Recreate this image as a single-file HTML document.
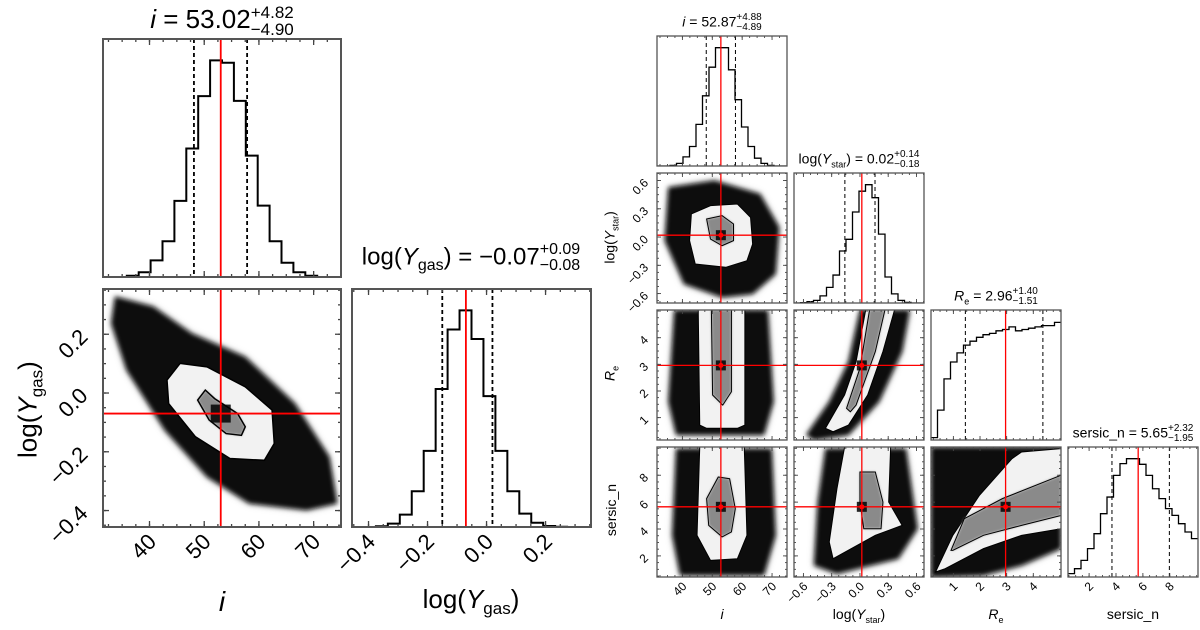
<!DOCTYPE html>
<html><head><meta charset="utf-8">
<style>
html,body{margin:0;padding:0;background:#fff;}
#wrap{position:relative;width:1200px;height:630px;overflow:hidden;font-family:"Liberation Sans",Arial,sans-serif;}
svg{position:absolute;left:0;top:0;}
.t{position:absolute;white-space:nowrap;color:#000;transform:translateX(-50%);}
.st{display:inline-block;vertical-align:middle;line-height:1;text-align:left;}
.st span{display:block;}
</style></head>
<body>
<div id="wrap">
<svg id="svg" width="1200" height="630">
<defs>
<filter id="b1" x="-20%" y="-20%" width="140%" height="140%"><feGaussianBlur stdDeviation="2.5"/></filter>
<filter id="b2" x="-20%" y="-20%" width="140%" height="140%"><feGaussianBlur stdDeviation="4"/></filter>
<filter id="b3" x="-20%" y="-20%" width="140%" height="140%"><feGaussianBlur stdDeviation="1.2"/></filter>
</defs>
</svg>

<div class="t" style="left:222px;top:4px;font-size:26px;"><i>i</i> = 53.02<span class="st" style="font-size:17px;"><span>+4.82</span><span>−4.90</span></span></div>
<div class="t" style="left:471px;top:242px;font-size:24px;">log(<i>Y</i><sub style="font-size:16px;">gas</sub>) = −0.07<span class="st" style="font-size:16px;"><span>+0.09</span><span>−0.08</span></span></div>
<div class="t" style="left:222px;top:586px;font-size:28px;"><i>i</i></div>
<div class="t" style="left:471px;top:584px;font-size:26px;">log(<i>Y</i><sub style="font-size:17px;">gas</sub>)</div>
<div class="t" style="left:30px;top:392px;font-size:26px;transform:translate(-50%,0) rotate(-90deg);">log(<i>Y</i><sub style="font-size:17px;">gas</sub>)</div>

<div class="t" style="left:722px;top:13px;font-size:14px;"><i>i</i> = 52.87<span class="st" style="font-size:10px;"><span>+4.88</span><span>−4.89</span></span></div>
<div class="t" style="left:859px;top:150px;font-size:14px;">log(<i>Y</i><sub style="font-size:9px;">star</sub>) = 0.02<span class="st" style="font-size:10px;"><span>+0.14</span><span>−0.18</span></span></div>
<div class="t" style="left:996px;top:287px;font-size:14px;"><i>R</i><sub style="font-size:9px;">e</sub> = 2.96<span class="st" style="font-size:10px;"><span>+1.40</span><span>−1.51</span></span></div>
<div class="t" style="left:1133px;top:424px;font-size:14px;">sersic_n = 5.65<span class="st" style="font-size:10px;"><span>+2.32</span><span>−1.95</span></span></div>
<div class="t" style="left:722px;top:606px;font-size:14px;"><i>i</i></div>
<div class="t" style="left:859px;top:606px;font-size:14px;">log(<i>Y</i><sub style="font-size:9px;">star</sub>)</div>
<div class="t" style="left:996px;top:606px;font-size:14px;"><i>R</i><sub style="font-size:9px;">e</sub></div>
<div class="t" style="left:1133px;top:606px;font-size:14px;">sersic_n</div>
<div class="t" style="left:611px;top:228px;font-size:14px;transform:translate(-50%,0) rotate(-90deg);">log(<i>Y</i><sub style="font-size:9px;">star</sub>)</div>
<div class="t" style="left:611px;top:364px;font-size:14px;transform:translate(-50%,0) rotate(-90deg);"><i>R</i><sub style="font-size:9px;">e</sub></div>
<div class="t" style="left:611px;top:502px;font-size:14px;transform:translate(-50%,0) rotate(-90deg);">sersic_n</div>
</div>

<script>
const rangeI = [31.5, 75];
const rangeYgas = [-0.456, 0.354];
const rangeYstar = [-0.70, 0.68];
const rangeRe = [0.16, 5.04];
const rangeN = [0.43, 10.1];

const ticksI = [40, 50, 60, 70];
const ticksYgas = [-0.4, -0.2, 0.0, 0.2];
const ticksYstar = [-0.6, -0.3, 0.0, 0.3, 0.6];
const ticksRe = [1, 2, 3, 4];
const ticksN = [2, 4, 6, 8];
const labelsYgas = ["−0.4", "−0.2", "0.0", "0.2"];
const labelsYstar = ["−0.6", "−0.3", "0.0", "0.3", "0.6"];

const histILeft = [0,0,0.005,0.02,0.07,0.15,0.32,0.54,0.76,0.91,0.90,0.74,0.51,0.30,0.15,0.06,0.02,0.005,0,0];
const histYgas = [0,0,0.003,0.014,0.052,0.15,0.32,0.58,0.83,0.91,0.79,0.55,0.32,0.15,0.056,0.018,0.004,0.001,0,0];
const histIRight = [0,0,0.005,0.02,0.07,0.15,0.32,0.54,0.76,0.91,0.91,0.74,0.51,0.30,0.15,0.06,0.02,0.005,0,0];
const histYstar = [0,0.003,0.01,0.02,0.055,0.12,0.215,0.40,0.49,0.70,0.86,0.91,0.81,0.53,0.20,0.07,0.02,0.005,0,0];
const histRe = [0.018,0.23,0.47,0.60,0.67,0.73,0.76,0.79,0.81,0.82,0.84,0.85,0.87,0.84,0.85,0.86,0.87,0.88,0.88,0.905];
const histN = [0.026,0.064,0.128,0.218,0.333,0.487,0.615,0.782,0.872,0.91,0.91,0.867,0.782,0.679,0.603,0.526,0.474,0.41,0.346,0.295];

const medI1 = 53.02, loI1 = 48.12, hiI1 = 57.84;
const medYgas = -0.07, loYgas = -0.15, hiYgas = 0.02;
const medI2 = 52.87, loI2 = 47.98, hiI2 = 57.75;
const medYstar = 0.02, loYstar = -0.16, hiYstar = 0.16;
const medRe = 2.96, loRe = 1.45, hiRe = 4.36;
const medN = 5.65, loN = 3.70, hiN = 7.97;

const darkIYgasX = [33.7,40.7,47.7,57.5,66.6,72.9,74.3,68.7,58.2,50.5,42.8,35.8,33.0];
const darkIYgasY = [0.328,0.294,0.203,0.123,-0.036,-0.218,-0.376,-0.399,-0.376,-0.286,-0.127,0.078,0.237];
const outIYgasX = [43.2,45.6,50.5,57.5,62.4,62.8,61.0,54.7,48.4,43.5];
const outIYgasY = [0.044,0.101,0.089,0.021,-0.058,-0.172,-0.229,-0.223,-0.149,-0.036];
const inIYgasX = [48.8,50.2,51.9,56.1,57.5,56.8,54.0,50.9];
const inIYgasY = [-0.024,0.010,-0.019,-0.070,-0.115,-0.144,-0.138,-0.092];

const darkIYstarX = [35.3,50.7,66.0,72.4,71.2,63.5,53.3,40.5,34.1];
const darkIYstarY = [0.528,0.599,0.457,0.103,-0.392,-0.605,-0.640,-0.498,-0.038];
const outIYstarX = [43.0,49.4,58.4,62.8,63.5,61.6,54.5,44.3,42.4];
const outIYstarY = [0.245,0.333,0.351,0.209,-0.074,-0.251,-0.321,-0.286,-0.038];
const inIYstarX = [48.1,53.3,57.1,57.1,53.3,49.4];
const inIYstarY = [0.192,0.227,0.139,-0.038,-0.091,-0.021];

const darkIReX = [37.3,68.6,70.5,67.3,37.9,35.3];
const darkIReY = [5.04,5.04,1.60,0.35,0.35,1.60];
const outIReX = [45.3,60.9,60.9,58.4,48.1,45.8];
const outIReY = [5.04,5.04,0.72,0.60,0.60,0.72];
const inIReX = [49.7,56.4,56.4,53.5,50.1];
const inIReY = [5.04,5.04,1.97,1.47,1.85];

const darkINX = [37.9,69.9,71.2,67.3,39.2,36.6];
const darkINY = [9.98,9.98,3.53,0.55,0.55,3.53];
const outINX = [45.8,60.7,61.6,58.4,49.4,44.9];
const outINY = [10.1,10.1,3.53,1.79,1.67,3.53];
const inINX = [52.0,55.8,57.7,56.4,53.3,48.8,48.1];
const inINY = [7.87,7.74,5.51,3.78,3.41,4.27,6.26];

const darkYReX = [-0.57,-0.325,-0.122,0.0,0.529,0.448,0.204,-0.122,-0.488];
const darkYReY = [0.35,1.60,3.10,5.04,5.04,3.48,1.60,0.35,0.16];
const outYReX = [-0.366,-0.163,-0.041,0.061,0.367,0.244,0.082,-0.122,-0.285];
const outYReY = [0.60,1.85,3.10,5.04,5.04,3.48,1.85,0.72,0.47];
const inYReX = [-0.142,0.0,0.102,0.265,0.163,-0.041,-0.102];
const inYReY = [1.35,2.85,5.04,5.04,3.48,1.47,1.22];

const darkYNX = [-0.366,0.489,0.611,0.407,-0.244,-0.488,-0.448];
const darkYNY = [9.98,9.98,4.02,1.79,0.67,1.29,6.01];
const outYNX = [-0.163,0.326,0.305,0.448,0.163,-0.285,-0.326,-0.244];
const outYNY = [10.1,10.1,6.01,4.27,3.53,1.79,3.03,7.00];
const inYNX = [0.0,0.163,0.244,0.224,0.041,0.0];
const inYNY = [8.24,8.24,6.01,4.02,4.02,6.01];

const darkReNX = [0.16,5.04,5.04,3.56,2.13,0.4,0.16];
const darkReNY = [10.1,10.1,2.54,1.29,0.55,0.43,0.43];
const outReNX = [0.33,0.98,1.98,3.20,3.56,5.04,5.04,3.56,2.13,0.69];
const outReNY = [0.80,3.53,6.51,9.23,9.73,9.98,4.02,3.53,2.54,1.05];
const inReNX = [0.91,1.41,2.84,5.04,5.04,3.56,2.13,0.98];
const inReNY = [2.41,4.77,6.26,8.0,5.01,4.27,3.53,2.41];

const NS = "http://www.w3.org/2000/svg";
const svg = document.getElementById("svg");
function el(tag, attrs, parent) {
  const e = document.createElementNS(NS, tag);
  for (const k in attrs) e.setAttribute(k, attrs[k]);
  (parent || svg).appendChild(e);
  return e;
}
function scale(r, a, b) { return v => a + (v - r[0]) / (r[1] - r[0]) * (b - a); }

function makePanel(name, x0, y0, w, h, xr, yr) {
  const g = el("g", {});
  
  
  const cp = el("clipPath", { id: "cp-" + name }, g);
  el("rect", { x: x0, y: y0, width: w, height: h }, cp);
  const inner = el("g", { "clip-path": "url(#cp-" + name + ")" }, g);
  return { g, inner, x0, y0, w, h, sx: scale(xr, x0, x0 + w), sy: yr ? scale(yr, y0 + h, y0) : null };
}

function frameTicks(p, xr, xMaj, xMin, yr, yMaj, yMin, big) {
  const L = big ? 6 : 4, l = big ? 3 : 2, sw = big ? 1.3 : 0.9;
  const c = "#444";
  const drawX = (v, len) => {
    const x = p.sx(v);
    el("line", { x1: x, x2: x, y1: p.y0 + p.h, y2: p.y0 + p.h - len, stroke: c, "stroke-width": sw }, p.g);
    el("line", { x1: x, x2: x, y1: p.y0, y2: p.y0 + len, stroke: c, "stroke-width": sw }, p.g);
  };
  for (let v = Math.ceil(xr[0] / xMin) * xMin; v <= xr[1]; v += xMin) drawX(v, l);
  xMaj.forEach(v => drawX(v, L));
  if (yr) {
    const drawY = (v, len) => {
      const y = p.sy(v);
      el("line", { x1: p.x0, x2: p.x0 + len, y1: y, y2: y, stroke: c, "stroke-width": sw }, p.g);
      el("line", { x1: p.x0 + p.w, x2: p.x0 + p.w - len, y1: y, y2: y, stroke: c, "stroke-width": sw }, p.g);
    };
    for (let v = Math.ceil(yr[0] / yMin) * yMin; v <= yr[1]; v += yMin) drawY(v, l);
    yMaj.forEach(v => drawY(v, L));
  }
  const fr = el("rect", { x: p.x0, y: p.y0, width: p.w, height: p.h, fill: "none", stroke: "#555", "stroke-width": big ? 2 : 1.3 }, p.g);
  
  
}

function hist(p, vals, xr, color, sw) {
  const n = vals.length, bw = (xr[1] - xr[0]) / n;
  let d = "";
  vals.forEach((v, i) => {
    const xa = p.sx(xr[0] + i * bw), xb = p.sx(xr[0] + (i + 1) * bw);
    const y = p.y0 + p.h - v * p.h;
    d += (i === 0 ? "M" + xa + "," + y : "L" + xa + "," + y) + "L" + xb + "," + y;
  });
  const path = el("path", { d, fill: "none", stroke: "#000", "stroke-width": sw }, p.inner);
  
  
}

function vline(p, v, dash, red, sw) {
  const x = p.sx(v);
  const ln = el("line", { x1: x, x2: x, y1: p.y0, y2: p.y0 + p.h, stroke: red ? "#f00" : "#000", "stroke-width": sw, "stroke-dasharray": dash ? "4,3" : "none" }, p.inner);
  
  
}
function hline(p, v, sw) {
  const y = p.sy(v);
  const ln = el("line", { x1: p.x0, x2: p.x0 + p.w, y1: y, y2: y, stroke: "#f00", "stroke-width": sw }, p.inner);
  
  
}

function poly(p, xs, ys, fill, stroke, sw, filt, op) {
  const pts = xs.map((x, i) => p.sx(x) + "," + p.sy(ys[i])).join(" ");
  const a = { points: pts, fill, stroke: stroke || "none", "stroke-width": sw || 0 };
  if (filt) a.filter = "url(#" + filt + ")";
  if (op) a.opacity = op;
  return el("polygon", a, p.inner);
}

function density(p, dX, dY, oX, oY, iX, iY, cx, cy, big) {
  const halo = poly(p, dX, dY, "#444", null, 0, "b2", 0.35);
  
  
  const dk = poly(p, dX, dY, "#111", null, 0, "b1");
  
  
  const ol = poly(p, oX, oY, "#f2f2f2", "#000", big ? 1.5 : 1);
  
  
  const il = poly(p, iX, iY, "#8a8a8a", null, 0, "b3");
  
  
  const ic = poly(p, iX, iY, "none", "#000", big ? 1.5 : 1);
  
  
  const core = el("rect", { x: p.sx(cx) - (big ? 10 : 5), y: p.sy(cy) - (big ? 9 : 5), width: big ? 20 : 10, height: big ? 18 : 10, fill: "#000", opacity: 0.85 }, p.inner);
  
  
}

function xLabels(p, ticks, labels, fs, dx, dy) {
  ticks.forEach((v, i) => {
    const x = p.sx(v) + dx, y = p.y0 + p.h + dy;
    const t = el("text", { x, y, "font-size": fs, "text-anchor": "end", transform: "rotate(-45 " + x + " " + y + ")", "font-family": "Liberation Sans, Arial, sans-serif" }, svg);
    
    
    t.textContent = labels ? labels[i] : String(v);
  });
}
function yLabels(p, ticks, labels, fs, dx, dy) {
  ticks.forEach((v, i) => {
    const x = p.x0 - dx, y = p.sy(v) + dy;
    const t = el("text", { x, y, "font-size": fs, "text-anchor": "end", transform: "rotate(-45 " + x + " " + y + ")", "font-family": "Liberation Sans, Arial, sans-serif" }, svg);
    
    
    t.textContent = labels ? labels[i] : String(v);
  });
}

const LW = 238;
const pA = makePanel("hist-i-left", 103, 39, LW, 238, rangeI, null);
hist(pA, histILeft, rangeI, "#000", 2);
vline(pA, loI1, true, false, 1.8); vline(pA, hiI1, true, false, 1.8); vline(pA, medI1, false, true, 1.8);
frameTicks(pA, rangeI, ticksI, 2.5, null, null, null, true);

const pB = makePanel("scatter-i-vs-log-ygas", 103, 289, LW, 238, rangeI, rangeYgas);
density(pB, darkIYgasX, darkIYgasY, outIYgasX, outIYgasY, inIYgasX, inIYgasY, medI1, medYgas, true);
vline(pB, medI1, false, true, 1.8); hline(pB, medYgas, 1.8);
frameTicks(pB, rangeI, ticksI, 2.5, rangeYgas, ticksYgas, 0.05, true);
xLabels(pB, ticksI, null, 22, 8, 16);
yLabels(pB, ticksYgas, labelsYgas, 22, 14, 4);

const pC = makePanel("hist-log-ygas", 352, 289, 239, 238, rangeYgas, null);
hist(pC, histYgas, rangeYgas, "#000", 2);
vline(pC, loYgas, true, false, 1.8); vline(pC, hiYgas, true, false, 1.8); vline(pC, medYgas, false, true, 1.8);
frameTicks(pC, rangeYgas, ticksYgas, 0.05, null, null, null, true);
xLabels(pC, ticksYgas, labelsYgas, 22, 8, 16);

const CX = [657, 794, 931, 1068], RY = [36, 173, 310, 447], S = 130;
const ranges = [rangeI, rangeYstar, rangeRe, rangeN];
const majT = [ticksI, ticksYstar, ticksRe, ticksN];
const minT = [2.5, 0.075, 0.25, 0.5];
const labs = [null, labelsYstar, null, null];
const hists = [histIRight, histYstar, histRe, histN];
const meds = [medI2, medYstar, medRe, medN];
const los = [loI2, loYstar, loRe, loN];
const his = [hiI2, hiYstar, hiRe, hiN];
const names = ["i", "log-ystar", "re", "sersic-n"];

for (let k = 0; k < 4; k++) {
  const p = makePanel("hist-" + names[k], CX[k], RY[k], S, S, ranges[k], null);
  hist(p, hists[k], ranges[k], "#000", 1.3);
  vline(p, los[k], true, false, 1); vline(p, his[k], true, false, 1); vline(p, meds[k], false, true, 1.3);
  frameTicks(p, ranges[k], majT[k], minT[k], null, null, null, false);
  if (k === 3) xLabels(p, majT[k], labs[k], 12, 5, 10);
}
const dens = {
  "1,0": [darkIYstarX, darkIYstarY, outIYstarX, outIYstarY, inIYstarX, inIYstarY],
  "2,0": [darkIReX, darkIReY, outIReX, outIReY, inIReX, inIReY],
  "3,0": [darkINX, darkINY, outINX, outINY, inINX, inINY],
  "2,1": [darkYReX, darkYReY, outYReX, outYReY, inYReX, inYReY],
  "3,1": [darkYNX, darkYNY, outYNX, outYNY, inYNX, inYNY],
  "3,2": [darkReNX, darkReNY, outReNX, outReNY, inReNX, inReNY]
};
for (let r = 1; r < 4; r++) for (let c = 0; c < r; c++) {
  const p = makePanel("scatter-" + names[c] + "-vs-" + names[r], CX[c], RY[r], S, S, ranges[c], ranges[r]);
  const d = dens[r + "," + c];
  density(p, d[0], d[1], d[2], d[3], d[4], d[5], meds[c], meds[r], false);
  vline(p, meds[c], false, true, 1.3); hline(p, meds[r], 1.3);
  const dot = el("circle", { cx: p.sx(meds[c]), cy: p.sy(meds[r]), r: 2.5, fill: "#f00" }, p.inner);
  
  
  frameTicks(p, ranges[c], majT[c], minT[c], ranges[r], majT[r], minT[r], false);
  if (r === 3) xLabels(p, majT[c], labs[c], 12, 5, 10);
  if (c === 0) yLabels(p, majT[r], labs[r], 12, 8, 3);
}
</script>
</body></html>
